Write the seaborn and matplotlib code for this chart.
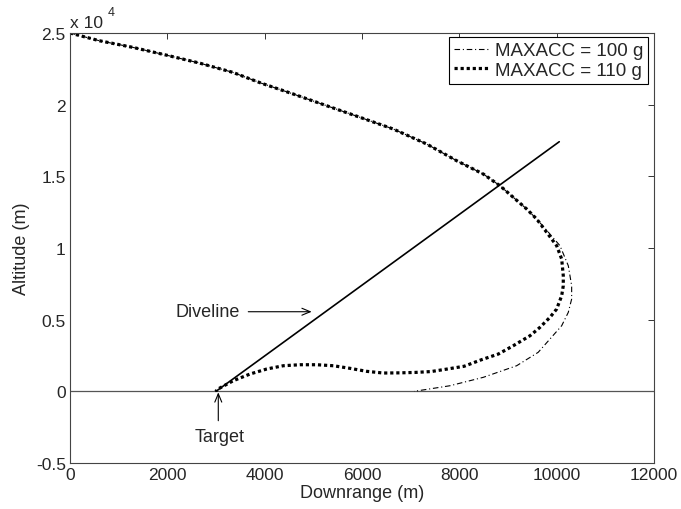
import matplotlib
matplotlib.use("Agg")
import matplotlib.pyplot as plt
import seaborn as sns
import pandas as pd

# ---- data ----
x_110 = [0, 602, 1288, 1972, 2657, 3343, 3930, 4588, 5274, 5959, 6643, 7329, 7945,
         8492, 8835, 9384, 9589, 9795, 10000, 10103, 10136, 10136, 10103, 10000,
         9862, 9657, 9452, 9108, 8800, 8450, 8100, 7740, 7420, 7100, 6780, 6437,
         6096, 5753, 5410, 5069, 4726, 4383, 4041, 3698, 3355, 3014, 3000]
y_110 = [25000, 24461, 24000, 23463, 22905, 22256, 21500, 20742, 19926, 19117, 18300,
         17254, 16089, 15160, 14344, 12720, 12022, 11093, 10159, 9230, 8065, 7368,
         6670, 5742, 5163, 4465, 3879, 3181, 2600, 2200, 1750, 1550, 1380, 1320,
         1290, 1277, 1395, 1605, 1786, 1856, 1856, 1786, 1556, 1207, 740, 112, 0]

x_100 = [0, 602, 1288, 1972, 2657, 3343, 3930, 4588, 5274, 5959, 6643, 7329, 7945,
         8492, 8835, 9384, 9589, 9830, 10068, 10239, 10308, 10308, 10239, 10103,
         9862, 9620, 9178, 8492, 7808, 7300, 7070]
y_100 = [25000, 24461, 24000, 23463, 22905, 22256, 21500, 20742, 19926, 19117, 18300,
         17254, 16089, 15160, 14344, 12720, 12022, 11100, 10159, 8763, 7368, 6440,
         5512, 4577, 3649, 2721, 1786, 977, 391, 120, 0]

dive_x = [3000, 10053]
dive_y = [0, 17414]

ground_x = [0, 12000]
ground_y = [0, 0]

x_ticks = [0, 2000, 4000, 6000, 8000, 10000, 12000]
y_ticks = [-5000, 0, 5000, 10000, 15000, 20000, 25000]
y_tick_labels = ["-0.5", "0", "0.5", "1", "1.5", "2", "2.5"]

series_labels = ["MAXACC = 100 g", "MAXACC = 110 g"]
xlabel = "Downrange (m)"
ylabel = "Altitude (m)"

# ---- style ----
sns.set_style("white")
plt.rcParams["font.family"] = ["Liberation Sans", "DejaVu Sans"]

fig = plt.figure(figsize=(6.81, 5.10), dpi=100)
ax = fig.add_axes([70 / 681, 1 - 464 / 510, (654 - 70) / 681, (464 - 34) / 510])

df100 = pd.DataFrame({"x": x_100, "y": y_100})
df110 = pd.DataFrame({"x": x_110, "y": y_110})

sns.lineplot(x=ground_x, y=ground_y, ax=ax, color="#555555", lw=0.9,
             legend=False, estimator=None)
sns.lineplot(x=dive_x, y=dive_y, ax=ax, color="black", lw=1.2,
             legend=False, estimator=None)
sns.lineplot(data=df100, x="x", y="y", sort=False, estimator=None, ax=ax,
             color="black", lw=0.8, label=series_labels[0])
sns.lineplot(data=df110, x="x", y="y", sort=False, estimator=None, ax=ax,
             color="black", lw=2.3, label=series_labels[1])

lines = ax.get_lines()
lines[2].set_dashes((5, 2.5, 1, 2.5))
lines[3].set_dashes((1, 0.9))
lines[3].set_dash_capstyle("butt")

ax.set_xlim(0, 12000)
ax.set_ylim(-5000, 25000)
ax.set_xticks(x_ticks)
ax.set_xticklabels([str(t) for t in x_ticks])
ax.set_yticks(y_ticks)
ax.set_yticklabels(y_tick_labels)
ax.tick_params(direction="in", length=4, width=0.7, color="#333333",
               labelsize=12.5, top=True, right=True, pad=3)
for s in ax.spines.values():
    s.set_visible(True)
    s.set_color("#444444")
    s.set_linewidth(0.8)

ax.set_xlabel(xlabel, fontsize=13, labelpad=1)
ax.set_ylabel(ylabel, fontsize=13, labelpad=4)

# exponent marker
ax.text(0.0, 1.008, "x 10", transform=ax.transAxes, fontsize=12.5,
        ha="left", va="bottom")
ax.text(0.064, 1.035, "4", transform=ax.transAxes, fontsize=9,
        ha="left", va="bottom")

# annotations
ax.annotate("", xy=(4966, 5554), xytext=(3663, 5554),
            arrowprops=dict(arrowstyle="->,head_length=0.6,head_width=0.25",
                            lw=0.8, color="black", shrinkA=0, shrinkB=0))
ax.text(3493, 5554, "Diveline", fontsize=13, ha="right", va="center")
ax.annotate("", xy=(3047, -70), xytext=(3047, -2051),
            arrowprops=dict(arrowstyle="->,head_length=0.6,head_width=0.25",
                            lw=0.8, color="black", shrinkA=0, shrinkB=0))
ax.text(3082, -3150, "Target", fontsize=13, ha="center", va="center")

leg = ax.legend(loc="upper right", bbox_to_anchor=(0.99, 0.99), borderaxespad=0,
                fontsize=13.5, frameon=True, fancybox=False, handlelength=1.9,
                handletextpad=0.3, labelspacing=0.15, borderpad=0.25)
leg.get_frame().set_edgecolor("black")
leg.get_frame().set_linewidth(0.8)
leg.get_frame().set_alpha(1)

fig.savefig("out.png", dpi=100)
